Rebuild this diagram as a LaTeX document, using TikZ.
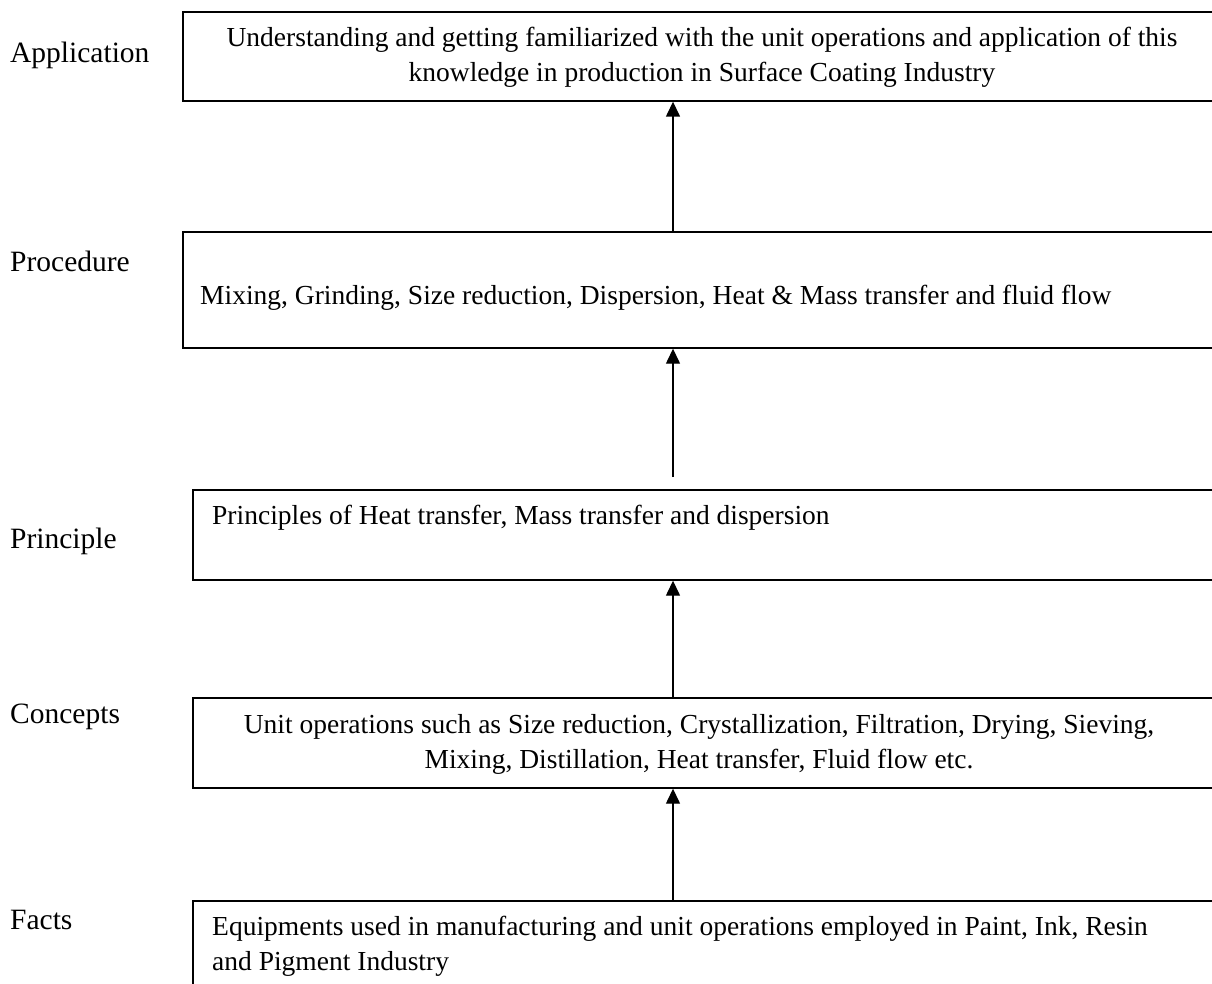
\documentclass[tikz,border=0pt]{standalone}
\usepackage{fontspec}
\setmainfont{Liberation Serif}
\usetikzlibrary{arrows.meta}
\tikzset{
  stagebox/.style={draw=black, line width=1.7pt, fill=none, inner sep=0pt, anchor=north west},
  boxtext/.style={inner sep=0pt, font=\fontsize{27.5}{35}\selectfont},
  sidelabel/.style={inner sep=0pt, anchor=base west, font=\fontsize{29.5}{35}\selectfont},
  uparrow/.style={line width=1.4pt, -{Triangle[width=14pt,length=15pt]}}
}
\begin{document}
\begin{tikzpicture}[x=1pt,y=-1pt]
\useasboundingbox (0,0) rectangle (1212,984);
% boxes
\node[stagebox, minimum width=1040pt, minimum height=89pt] (app) at (182,11) {};
\node[stagebox, minimum width=1040pt, minimum height=116pt] (proc) at (182,231) {};
\node[stagebox, minimum width=1030pt, minimum height=90pt] (princ) at (192,489) {};
\node[stagebox, minimum width=1030pt, minimum height=90pt] (conc) at (192,697) {};
\node[stagebox, minimum width=1030pt, minimum height=100pt] (facts) at (192,900) {};
% side labels
\node[sidelabel] (lapp) at (10,63) {Application};
\node[sidelabel] (lproc) at (10,272) {Procedure};
\node[sidelabel] (lprinc) at (10,548) {Principle};
\node[sidelabel] (lconc) at (10,723) {Concepts};
\node[sidelabel] (lfacts) at (10,929) {Facts};
% box texts (multi-line nodes: base = baseline of last line)
\node[boxtext, anchor=base, align=center] (tapp) at (702,82) {Understanding and getting familiarized with the unit operations and application of this\\knowledge in production in Surface Coating Industry};
\node[boxtext, anchor=base west] (tproc) at (200,305) {Mixing, Grinding, Size reduction, Dispersion, Heat \& Mass transfer and fluid flow};
\node[boxtext, anchor=base west] (tprinc) at (212,524) {Principles of Heat transfer, Mass transfer and dispersion};
\node[boxtext, anchor=base, align=center] (tconc) at (699,768) {Unit operations such as Size reduction, Crystallization, Filtration, Drying, Sieving,\\Mixing, Distillation, Heat transfer, Fluid flow etc.};
\node[boxtext, anchor=base west, align=left] (tfacts) at (212,970) {Equipments used in manufacturing and unit operations employed in Paint, Ink, Resin\\and Pigment Industry};
% arrows
\coordinate (a2tail) at (673,477);
\draw[uparrow] (proc.north -| 673,0) -- (app.south -| 673,0);
\draw[uparrow] (a2tail) -- (proc.south -| a2tail);
\draw[uparrow] (conc.north -| 673,0) -- (princ.south -| 673,0);
\draw[uparrow] (facts.north -| 673,0) -- (conc.south -| 673,0);
\end{tikzpicture}
\end{document}
